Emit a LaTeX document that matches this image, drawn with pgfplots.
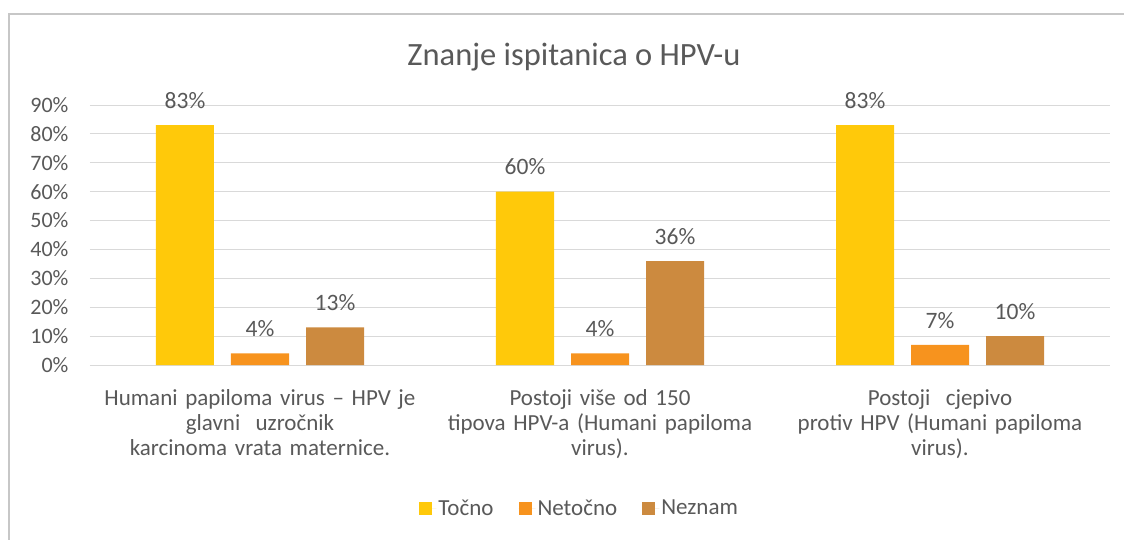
\documentclass[border=0pt]{standalone}
\usepackage{pgfplots}
\pgfplotsset{compat=1.18}
\usepackage{fontspec}
\setmainfont{Carlito}
\definecolor{cY}{HTML}{FFC90A}
\definecolor{cO}{HTML}{F7931E}
\definecolor{cB}{HTML}{CC8A3F}
\definecolor{txt}{HTML}{595959}
\definecolor{gridc}{HTML}{D9D9D9}
\pgfplotsset{sq legend/.style={legend image code/.code={\fill[##1] (0pt,-6.5pt) rectangle (13pt,6.5pt); \path (0pt,0pt) -- (17pt,0pt);}}}
\begin{document}
\begin{tikzpicture}
\path[use as bounding box] (-90pt,-174pt) rectangle (1034pt,365pt);
\draw[gridc!80!gray, line width=1.2pt] (-81pt,-176pt) -- (-81pt,351pt) -- (1036pt,351pt);
\begin{axis}[
  at={(0pt,0pt)}, anchor=south west,
  scale only axis, width=1020pt, height=260pt,
  xmin=-0.5, xmax=2.5, ymin=0, ymax=90,
  ybar=17pt, bar width=58pt,
  axis line style={draw=none},
  major tick length=0pt,
  ytick={0,10,...,90},
  yticklabel={\pgfmathprintnumber{\tick}\%},
  /pgf/number format/assume math mode=true,
  ymajorgrids, grid style={gridc, line width=1pt},
  xtick={0,1,2},
  xticklabels={{Humani papiloma virus – HPV je\\glavni\ \ uzročnik\\karcinoma vrata maternice.},
                {Postoji više od 150\\tipova HPV-a (Humani papiloma\\virus).},
                {Postoji\ \ cjepivo\\protiv HPV (Humani papiloma\\virus).}},
  xticklabel style={align=center, text width=340pt, font=\fontsize{23}{25}\selectfont, text=txt, yshift=-21pt},
  yticklabel style={font=\fontsize{22}{24}\selectfont, text=txt, xshift=-18pt},
  nodes near coords={\pgfmathprintnumber{\pgfplotspointmeta}\%},
  every node near coord/.append style={font=\fontsize{23.5}{25}\selectfont, text=txt, yshift=13pt},
  title={Znanje ispitanica o HPV-u},
  title style={font=\fontsize{32.5}{36}\selectfont, text=txt, at={(axis description cs:0.4745,1)}, yshift=24pt},
  legend columns=3,
  legend style={at={(axis description cs:0.48,-0.55)}, anchor=center, draw=none,
    font=\fontsize{23}{25}\selectfont, text=txt,
    /tikz/every even column/.append style={column sep=23pt}},
  enlarge y limits=false,
]
\addplot[fill=cY, draw=none, sq legend] coordinates {(0,83) (1,60) (2,83)};
\addplot[fill=cO, draw=none, sq legend] coordinates {(0,4) (1,4) (2,7)};
\addplot[fill=cB, draw=none, sq legend] coordinates {(0,13) (1,36) (2,10)};
\legend{Točno,Netočno,Neznam}
\end{axis}
\end{tikzpicture}
\end{document}
